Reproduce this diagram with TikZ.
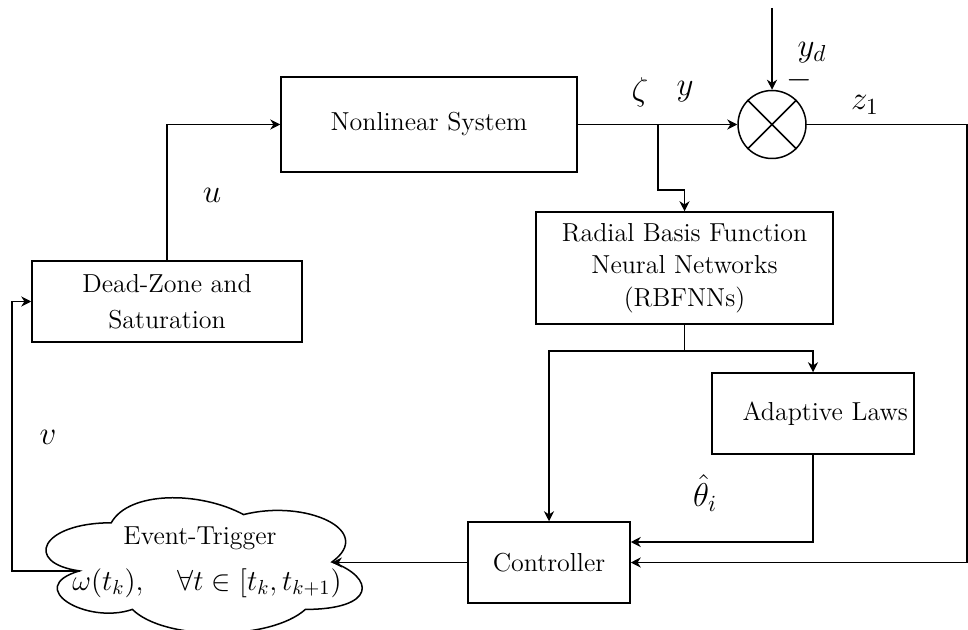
\RequirePackage{fix-cm}
\documentclass[tikz,border=0pt]{standalone}
\usepackage{fontspec}
\usetikzlibrary{arrows.meta,calc}

\begin{document}
\begin{tikzpicture}[x=0.5pt,y=-0.5pt,
  wire/.style={line width=0.75pt},
  block/.style={draw, wire, inner sep=0pt, align=center,
    font=\fontsize{13}{16.5}\selectfont},
  arr/.style={wire, -{Stealth[length=5pt,width=5pt,inset=1.6pt]}},
  lbl/.style={inner sep=0pt, font=\fontsize{16.5}{19}\selectfont}]
\useasboundingbox (0,0) rectangle (968,630);

% blocks
\node[block, minimum width=148pt, minimum height=47.5pt] (ns) at (429,124.5) {Nonlinear System};
\node[block, minimum width=135pt, minimum height=40.5pt,
  font=\fontsize{13}{18}\selectfont] (dz) at (167,301.5) {Dead-Zone and\\Saturation};
\node[block, minimum width=148.5pt, minimum height=56pt,
  font=\fontsize{13}{16.3}\selectfont] (rbf) at (684.5,268)
  {Radial Basis Function\\Neural Networks\\(RBFNNs)};
\node[block, minimum width=101pt, minimum height=40.5pt, text width=95pt,
  align=right, inner xsep=3pt] (al) at (813,413.5) {Adaptive Laws};
\node[block, minimum width=81pt, minimum height=40.5pt] (ctrl) at (549,562.5) {Controller};

% summing junction
\node[draw, wire, circle, minimum size=34pt, inner sep=0pt] (sum) at (772,124.5) {};
\draw[wire] (sum.45) -- (sum.225) (sum.135) -- (sum.315);

% event-trigger cloud
\draw[wire] (111.25,522.8)
  .. controls (40.65,522.8) and (23,563) .. (79.5,570.9)
  .. controls (23,587.3) and (86.5,625.2) .. (132.4,609.4)
  .. controls (164.2,641) and (270.1,641) .. (305.4,609.4)
  .. controls (376,609.4) and (376,577.8) .. (331.9,562)
  .. controls (376,530.4) and (305.4,498.8) .. (243.6,514.6)
  .. controls (199.5,490.9) and (128.9,490.9) .. (111.25,522.8) -- cycle;
\coordinate (etR) at (331.9,562);
\coordinate (etL) at (79.5,570.9);
\node[inner sep=0pt, font=\fontsize{13}{16}\selectfont] (et) at (200,538) {Event-Trigger};
\node[inner sep=0pt, font=\fontsize{14.5}{17}\selectfont] (etf) at (207,583)
  {$\omega(t_k),\quad \forall t\in[t_k,t_{k+1})$};

% helper points for the wiring
\coordinate (ydin) at (772,8);
\coordinate (br) at (658,124.5);
\coordinate (bk) at (658,190);
\coordinate (rc) at (967,124.5);
\coordinate (fo) at (684.5,351);
\coordinate (vx) at (12,0);

% connectors
\draw[arr] (dz.north) |- (ns.west);
\draw[arr] (ns.east) -- (sum.west);
\draw[arr] (br) -- (bk) -| (rbf.north);
\draw[arr] (ydin) -- (sum.north);
\draw[arr] (sum.east) -- (rc) |- (ctrl.east);
\draw[wire] (rbf.south) -- (fo);
\draw[arr] (fo) -| (ctrl.north);
\draw[arr] (fo) -| (al.north);
\draw[arr] (al.south) |- ($(ctrl.east)+(0,-20.5)$);
\draw[arr] (ctrl.west) -- (ctrl.west -| etR);
\draw[arr] (etL) -- (etL -| vx) |- (dz.west);

% signal labels
\node[lbl] (lu) at (212,195) {$u$};
\node[lbl] (lv) at (48,437) {$v$};
\node[lbl] (lzeta) at (640,92) {$\zeta$};
\node[lbl] (ly) at (685,92) {$y$};
\node[lbl] (lyd) at (812,53) {$y_d$};
\node[lbl] (lminus) at (799,80) {$-$};
\node[lbl] (lz) at (865,105) {$z_1$};
\node[lbl] (lth) at (705,493) {$\hat{\theta}_i$};
\end{tikzpicture}
\end{document}
